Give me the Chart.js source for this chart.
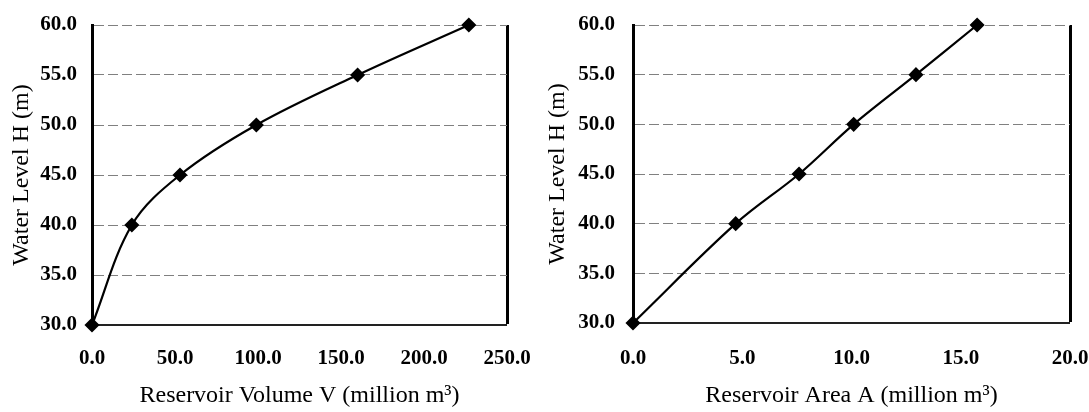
<!DOCTYPE html>
<html>
<head>
<meta charset="utf-8">
<script src="https://cdn.jsdelivr.net/npm/chart.js@4/dist/chart.umd.min.js"></script>
<style>
  html, body { margin: 0; padding: 0; background: #fff; }
  body { width: 1089px; height: 412px; position: relative; overflow: hidden; }
  #c1 { position: absolute; left: 0; top: 0; }
  #c2 { position: absolute; left: 540px; top: 0; }
</style>
</head>
<body>
<canvas id="c1" width="540" height="412"></canvas>
<canvas id="c2" width="549" height="412"></canvas>
<script>
// ---- data ----
const waterLevel = [30, 40, 45, 50, 55, 60];
const reservoirVolume = [0, 24, 53, 99, 160, 227];
const reservoirArea = [0, 4.7, 7.6, 10.1, 12.95, 15.75];
const levelTicks = [30, 35, 40, 45, 50, 55, 60];
const volumeTicks = [0, 50, 100, 150, 200, 250];
const areaTicks = [0, 5, 10, 15, 20];
const yTitle = 'Water Level H (m)';
const xTitleVolume = 'Reservoir Volume V (million m\u00B3)';
const xTitleArea = 'Reservoir Area A (million m\u00B3)';

const FONT = "'Liberation Serif', 'Times New Roman', serif";
const CLEAR = 'rgba(0,0,0,0)';

function makeChart(id, xs, xTicks, xTitle, L) {
  const pts = xs.map((x, i) => ({ x: x, y: waterLevel[i] }));
  const xMax = xTicks[xTicks.length - 1];
  return new Chart(document.getElementById(id), {
    type: 'scatter',
    data: {
      datasets: [{
        data: pts,
        showLine: true,
        clip: false,
        borderColor: '#000',
        borderWidth: 2.2,
        backgroundColor: '#000',
        pointStyle: 'rectRot',
        pointRadius: 6,
        pointHoverRadius: 6,
        tension: 0.35
      }]
    },
    options: {
      responsive: false,
      devicePixelRatio: 1,
      animation: false,
      events: [],
      layout: { padding: { left: 0, right: L.padRight, top: 25, bottom: 0 } },
      plugins: { legend: { display: false }, tooltip: { enabled: false } },
      scales: {
        x: {
          type: 'linear',
          min: xTicks[0],
          max: xMax,
          afterBuildTicks: (s) => { s.ticks = xTicks.map(v => ({ value: v })); },
          afterFit: (s) => { s.height = L.xHeight; },
          ticks: {
            color: '#000',
            padding: 0,
            maxRotation: 0,
            font: { family: FONT, size: 21, weight: 'bold' },
            callback: (v) => Number(v).toFixed(1)
          },
          grid: {
            drawTicks: true,
            tickLength: L.xTickPad,
            tickColor: CLEAR,
            color: (c) => (c.tick && c.tick.value === xMax) ? '#000' : CLEAR,
            lineWidth: (c) => (c.tick && c.tick.value === xMax) ? 3 : 0
          },
          border: { display: true, color: '#222', width: 2 },
          title: {
            display: true,
            text: xTitle,
            color: '#000',
            font: { family: FONT, size: 24 },
            padding: { top: 0, bottom: L.xTitlePad }
          }
        },
        y: {
          type: 'linear',
          min: levelTicks[0],
          max: levelTicks[levelTicks.length - 1],
          afterBuildTicks: (s) => { s.ticks = levelTicks.map(v => ({ value: v })); },
          afterFit: (s) => { s.width = L.yWidth; },
          ticks: {
            color: '#000',
            padding: 0,
            font: { family: FONT, size: 21, weight: 'bold' },
            callback: (v) => Number(v).toFixed(1)
          },
          grid: {
            drawTicks: true,
            tickLength: L.yTickPad,
            tickColor: CLEAR,
            color: '#808080',
            lineWidth: 1
          },
          border: { display: true, color: '#000', width: 3, dash: [10, 4] },
          title: {
            display: true,
            text: yTitle,
            color: '#000',
            font: { family: FONT, size: 24 },
            padding: { top: L.yTitlePad, bottom: 0 }
          }
        }
      }
    }
  });
}

makeChart('c1', reservoirVolume, volumeTicks, xTitleVolume,
  { padRight: 33, xHeight: 87, yWidth: 92, xTickPad: 21, yTickPad: 15, xTitlePad: 2, yTitlePad: 7 });
makeChart('c2', reservoirArea, areaTicks, xTitleArea,
  { padRight: 19, xHeight: 89, yWidth: 93, xTickPad: 23, yTickPad: 18, xTitlePad: 2, yTitlePad: 3 });
</script>
</body>
</html>
